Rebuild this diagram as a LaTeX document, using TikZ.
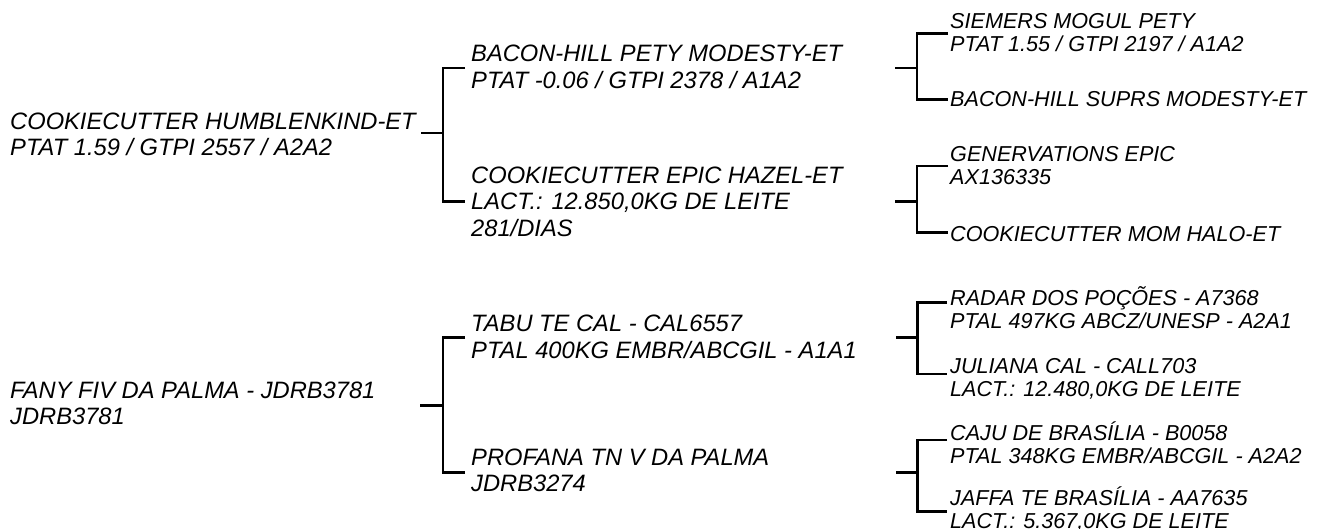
\documentclass[tikz,border=0pt]{standalone}
\usepackage{fontspec}
\setmainfont{Liberation Sans}
\begin{document}
\begin{tikzpicture}[x=1pt,y=-1pt,
  bigtxt/.style={anchor=base west,inner sep=0pt,font=\itshape\fontsize{23.7}{26.5}\selectfont},
  smalltxt/.style={anchor=base west,inner sep=0pt,font=\itshape\fontsize{21.6}{23}\selectfont},
  conn/.style={draw=black,line width=2.6pt,line join=miter}]
\useasboundingbox (0,0) rectangle (1318,528);
\newcommand{\lines}[1]{\begin{tabular}[t]{@{}l@{}}#1\end{tabular}}
% generation 0
\node[bigtxt] (r1) at (10,129.3) {\lines{COOKIECUTTER HUMBLENKIND-ET\\PTAT 1.59 / GTPI 2557 / A2A2}};
\node[bigtxt] (r2) at (10,398.3) {\lines{FANY FIV DA PALMA - JDRB3781\\JDRB3781}};
% generation 1
\node[bigtxt] (g1a) at (471,61.7) {\lines{BACON-HILL PETY MODESTY-ET\\PTAT -0.06 / GTPI 2378 / A1A2}};
\node[bigtxt] (g1b) at (471,183.3) {\lines{COOKIECUTTER EPIC HAZEL-ET\\LACT.: 12.850,0KG DE LEITE\\281/DIAS}};
\node[bigtxt] (g1c) at (471,331.7) {\lines{TABU TE CAL - CAL6557\\PTAL 400KG EMBR/ABCGIL - A1A1}};
\node[bigtxt] (g1d) at (471,465) {\lines{PROFANA TN V DA PALMA\\JDRB3274}};
% generation 2
\node[smalltxt] (g2a) at (950,28) {\lines{SIEMERS MOGUL PETY\\PTAT 1.55 / GTPI 2197 / A1A2}};
\node[smalltxt] (g2b) at (950,106) {\lines{BACON-HILL SUPRS MODESTY-ET}};
\node[smalltxt] (g2c) at (950,161.7) {\lines{GENERVATIONS EPIC\\AX136335}};
\node[smalltxt] (g2d) at (950,241.7) {\lines{COOKIECUTTER MOM HALO-ET}};
\node[smalltxt] (g2e) at (950,305) {\lines{RADAR DOS POÇÕES - A7368\\PTAL 497KG ABCZ/UNESP - A2A1}};
\node[smalltxt] (g2f) at (950,373) {\lines{JULIANA CAL - CALL703\\LACT.: 12.480,0KG DE LEITE}};
\node[smalltxt] (g2g) at (950,440) {\lines{CAJU DE BRASÍLIA - B0058\\PTAL 348KG EMBR/ABCGIL - A2A2}};
\node[smalltxt] (g2h) at (950,505.5) {\lines{JAFFA TE BRASÍLIA - AA7635\\LACT.: 5.367,0KG DE LEITE}};
% connector points
\coordinate (r1o) at (421,133);   \coordinate (j1) at (443,133);
\coordinate (g1ai) at (465,68);   \coordinate (g1bi) at (465,201.5);
\coordinate (g1ao) at (895,68);   \coordinate (j2) at (917,68);
\coordinate (g2ai) at (948,33.3); \coordinate (g2bi) at (948,99.3);
\coordinate (g1bo) at (895,201.5);\coordinate (j3) at (917,201.5);
\coordinate (g2ci) at (948,166);  \coordinate (g2di) at (948,232.7);
\coordinate (r2o) at (420,405.5); \coordinate (j4) at (443,405.5);
\coordinate (g1ci) at (465,337.3);\coordinate (g1di) at (465,472.3);
\coordinate (g1co) at (896,337.3);\coordinate (j5) at (917.5,337.3);
\coordinate (g2ei) at (947,302.7);\coordinate (g2fi) at (947,374);
\coordinate (g1do) at (896,472.3);\coordinate (j6) at (917.5,472.3);
\coordinate (g2gi) at (947,440);  \coordinate (g2hi) at (947,511.7);
% brackets
\draw[conn] (r1o) -- (j1);  \draw[conn] (g1ai) -| (j1) |- (g1bi);
\draw[conn] (g1ao) -- (j2); \draw[conn] (g2ai) -| (j2) |- (g2bi);
\draw[conn] (g1bo) -- (j3); \draw[conn] (g2ci) -| (j3) |- (g2di);
\draw[conn] (r2o) -- (j4);  \draw[conn] (g1ci) -| (j4) |- (g1di);
\draw[conn] (g1co) -- (j5); \draw[conn] (g2ei) -| (j5) |- (g2fi);
\draw[conn] (g1do) -- (j6); \draw[conn] (g2gi) -| (j6) |- (g2hi);
\end{tikzpicture}
\end{document}
